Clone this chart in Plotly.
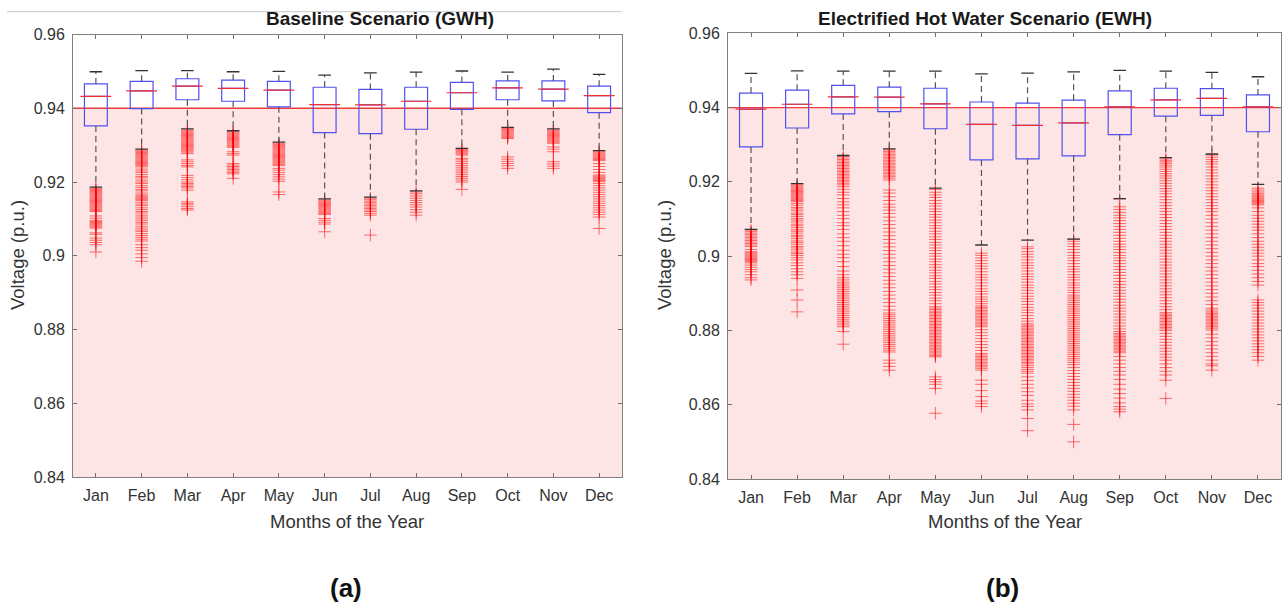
import plotly.graph_objects as go

months = ["Jan", "Feb", "Mar", "Apr", "May", "Jun", "Jul", "Aug", "Sep", "Oct", "Nov", "Dec"]
y_ticks = [0.84, 0.86, 0.88, 0.9, 0.92, 0.94, 0.96]
y_ticktext = ["0.84", "0.86", "0.88", "0.9", "0.92", "0.94", "0.96"]
threshold = 0.94

# ---- Baseline (GWH) box statistics ----
gwh_upper = [0.9499, 0.9502, 0.9502, 0.9499, 0.9500, 0.9490, 0.9496, 0.9498, 0.9501, 0.9498, 0.9506, 0.9492]
gwh_q3 = [0.9466, 0.9473, 0.9480, 0.9476, 0.9473, 0.9457, 0.9451, 0.9457, 0.9470, 0.9474, 0.9474, 0.9460]
gwh_median = [0.9432, 0.9447, 0.9460, 0.9454, 0.9449, 0.9410, 0.9409, 0.9419, 0.9442, 0.9455, 0.9452, 0.9434]
gwh_q1 = [0.9352, 0.9399, 0.9423, 0.9419, 0.9404, 0.9334, 0.9331, 0.9343, 0.9397, 0.9423, 0.9420, 0.9388]
gwh_lower = [0.9186, 0.9289, 0.9344, 0.9339, 0.9308, 0.9154, 0.9159, 0.9176, 0.9291, 0.9348, 0.9344, 0.9285]
gwh_outliers = [
    [0.9183, 0.918, 0.9177, 0.9174, 0.9171, 0.9168, 0.9165, 0.9162, 0.9159, 0.9156, 0.9153, 0.915, 0.9147, 0.9144,
     0.9141, 0.9138, 0.9135, 0.9132, 0.9129, 0.9126, 0.9123, 0.912, 0.9108, 0.9102, 0.9096, 0.9093, 0.909, 0.9087,
     0.9084, 0.9081, 0.9078, 0.9075, 0.9062, 0.9058, 0.9048, 0.9042, 0.9036, 0.903, 0.901],
    [0.9286, 0.9283, 0.928, 0.9277, 0.9274, 0.9271, 0.9268, 0.9265, 0.9262, 0.9259, 0.9256, 0.9253, 0.925, 0.9247,
     0.9244, 0.9241, 0.9235, 0.923, 0.9226, 0.922, 0.9215, 0.9211, 0.9205, 0.92, 0.9196, 0.919, 0.9185, 0.918,
     0.9176, 0.917, 0.9165, 0.9162, 0.9159, 0.9156, 0.9153, 0.915, 0.9145, 0.914, 0.9136, 0.913, 0.9125, 0.912,
     0.9116, 0.911, 0.9105, 0.91, 0.9095, 0.909, 0.9086, 0.908, 0.9075, 0.907, 0.9066, 0.906, 0.9055, 0.905,
     0.9045, 0.904, 0.903, 0.9022, 0.9015, 0.9005, 0.8995, 0.8985],
    [0.9341, 0.9338, 0.9335, 0.9332, 0.9329, 0.9326, 0.9323, 0.932, 0.9317, 0.9314, 0.9311, 0.9308, 0.9305, 0.9302,
     0.9299, 0.9296, 0.9293, 0.929, 0.9287, 0.9284, 0.9281, 0.9277, 0.926, 0.9255, 0.925, 0.9245, 0.9241, 0.9218,
     0.9212, 0.9206, 0.92, 0.9196, 0.9192, 0.9188, 0.9184, 0.9178, 0.9146, 0.9142, 0.9138, 0.9133, 0.9128, 0.9124],
    [0.9336, 0.9333, 0.933, 0.9327, 0.9324, 0.9321, 0.9318, 0.9315, 0.9312, 0.9309, 0.9306, 0.9303, 0.93, 0.9297,
     0.9294, 0.9282, 0.9277, 0.9273, 0.925, 0.9246, 0.9242, 0.9238, 0.9234, 0.923, 0.9226, 0.9222, 0.921],
    [0.9305, 0.9302, 0.9299, 0.9296, 0.9293, 0.929, 0.9287, 0.9284, 0.9281, 0.9278, 0.9275, 0.9272, 0.9269, 0.9266,
     0.9263, 0.926, 0.9257, 0.9254, 0.9251, 0.9248, 0.9245, 0.9237, 0.9232, 0.9226, 0.922, 0.9214, 0.9208, 0.9202,
     0.9173, 0.9166],
    [0.9151, 0.9148, 0.9145, 0.9142, 0.9139, 0.9136, 0.9133, 0.913, 0.9127, 0.9124, 0.9121, 0.9118, 0.9115, 0.9112,
     0.9101, 0.9096, 0.9091, 0.9086, 0.9065],
    [0.9156, 0.9152, 0.9148, 0.9144, 0.914, 0.9136, 0.9132, 0.9128, 0.9124, 0.912, 0.9115, 0.911, 0.9056],
    [0.9173, 0.9168, 0.9162, 0.9156, 0.915, 0.9144, 0.9138, 0.9132, 0.9125, 0.9118, 0.911],
    [0.9288, 0.9285, 0.9282, 0.9279, 0.9276, 0.9273, 0.9264, 0.926, 0.9255, 0.925, 0.9245, 0.924, 0.9235, 0.923,
     0.9225, 0.922, 0.9215, 0.921, 0.9205, 0.92, 0.918],
    [0.9345, 0.9342, 0.9339, 0.9336, 0.9333, 0.933, 0.9327, 0.9324, 0.9321, 0.9318, 0.9268, 0.9262, 0.9256, 0.925,
     0.9244, 0.9237],
    [0.9341, 0.9338, 0.9335, 0.9332, 0.9329, 0.9326, 0.9323, 0.932, 0.9317, 0.9314, 0.9311, 0.9308, 0.9305, 0.9295,
     0.9289, 0.9282, 0.9255, 0.9249, 0.9243, 0.9237],
    [0.9282, 0.9279, 0.9276, 0.9273, 0.927, 0.9267, 0.9264, 0.9261, 0.9258, 0.925, 0.9242, 0.9234, 0.9226, 0.9219,
     0.9216, 0.9213, 0.921, 0.9207, 0.9204, 0.9201, 0.9196, 0.919, 0.9184, 0.9178, 0.9172, 0.9166, 0.916, 0.9154,
     0.9148, 0.9142, 0.9136, 0.913, 0.9124, 0.9118, 0.9112, 0.9105, 0.9074],
]

# ---- Electrified hot water (EWH) box statistics ----
ewh_upper = [0.9492, 0.9499, 0.9498, 0.9498, 0.9498, 0.9491, 0.9493, 0.9496, 0.9500, 0.9498, 0.9495, 0.9483]
ewh_q3 = [0.9439, 0.9447, 0.9460, 0.9455, 0.9452, 0.9415, 0.9412, 0.9420, 0.9445, 0.9452, 0.9451, 0.9434]
ewh_median = [0.9396, 0.9409, 0.9429, 0.9428, 0.9410, 0.9355, 0.9352, 0.9359, 0.9402, 0.9421, 0.9425, 0.9402]
ewh_q1 = [0.9294, 0.9345, 0.9383, 0.9389, 0.9343, 0.9259, 0.9262, 0.9270, 0.9327, 0.9377, 0.9379, 0.9335]
ewh_lower = [0.9072, 0.9195, 0.9271, 0.9289, 0.9183, 0.9030, 0.9043, 0.9046, 0.9155, 0.9265, 0.9275, 0.9193]
ewh_outliers = [
    [0.907, 0.9066, 0.9062, 0.9058, 0.9054, 0.905, 0.9046, 0.9042, 0.9038, 0.9034, 0.903, 0.9026, 0.9018, 0.9012,
     0.9009, 0.9006, 0.9003, 0.9, 0.8997, 0.8994, 0.8991, 0.8988, 0.8985, 0.8982, 0.8976, 0.897, 0.8964, 0.8958,
     0.895, 0.8942, 0.8936],
    [0.9192, 0.9189, 0.9186, 0.9183, 0.918, 0.9177, 0.9174, 0.9171, 0.9168, 0.9165, 0.9162, 0.9159, 0.9156, 0.9153,
     0.915, 0.9147, 0.9142, 0.9137, 0.9131, 0.9127, 0.9122, 0.9116, 0.9112, 0.9107, 0.9101, 0.9097, 0.9092, 0.9086,
     0.9082, 0.9077, 0.9071, 0.9067, 0.9062, 0.9056, 0.9052, 0.9047, 0.9041, 0.9037, 0.9032, 0.9026, 0.9022, 0.9017,
     0.9011, 0.9007, 0.9002, 0.8996, 0.899, 0.8982, 0.8975, 0.8966, 0.8958, 0.895, 0.894, 0.8909, 0.8882, 0.885],
    [0.9268, 0.9264, 0.926, 0.9256, 0.9252, 0.9248, 0.9244, 0.924, 0.9236, 0.9232, 0.9228, 0.9224, 0.922, 0.9216,
     0.9212, 0.9208, 0.9204, 0.92, 0.9196, 0.9192, 0.9187, 0.918, 0.9172, 0.9165, 0.9155, 0.9146, 0.9138, 0.913,
     0.912, 0.911, 0.9101, 0.909, 0.9082, 0.9072, 0.906, 0.905, 0.904, 0.9028, 0.9016, 0.9005, 0.8996, 0.8985,
     0.8972, 0.896, 0.895, 0.8942, 0.8936, 0.893, 0.8925, 0.892, 0.8915, 0.891, 0.8905, 0.89, 0.8895, 0.889,
     0.8885, 0.888, 0.8875, 0.887, 0.8865, 0.886, 0.8855, 0.885, 0.8845, 0.884, 0.8835, 0.883, 0.8825, 0.882,
     0.8815, 0.881, 0.8797, 0.8763],
    [0.9286, 0.9282, 0.9278, 0.9274, 0.927, 0.9266, 0.9262, 0.9258, 0.9254, 0.925, 0.9246, 0.9242, 0.9238, 0.9234,
     0.923, 0.9226, 0.9222, 0.9218, 0.9214, 0.921, 0.9205, 0.9178, 0.917, 0.916, 0.915, 0.914, 0.9132, 0.9124,
     0.9115, 0.9105, 0.9095, 0.9085, 0.9075, 0.9065, 0.9055, 0.9045, 0.9035, 0.9025, 0.9015, 0.9005, 0.8995,
     0.8985, 0.8975, 0.8965, 0.8955, 0.8945, 0.8935, 0.8925, 0.8915, 0.8905, 0.8895, 0.8885, 0.8875, 0.8865,
     0.8855, 0.8847, 0.8842, 0.8837, 0.8832, 0.8827, 0.8822, 0.8817, 0.8812, 0.8807, 0.8802, 0.8797, 0.8792,
     0.8787, 0.8782, 0.8777, 0.8772, 0.8767, 0.8762, 0.8757, 0.8752, 0.8747, 0.8742, 0.872, 0.8712, 0.8703, 0.8693],
    [0.918, 0.9172, 0.9165, 0.9158, 0.915, 0.9142, 0.9135, 0.9127, 0.912, 0.9112, 0.9105, 0.9097, 0.909, 0.9082,
     0.9075, 0.9067, 0.906, 0.9052, 0.9045, 0.9037, 0.903, 0.9022, 0.9015, 0.9007, 0.9, 0.8992, 0.8985, 0.8977,
     0.897, 0.8962, 0.8955, 0.8947, 0.894, 0.8932, 0.8925, 0.8917, 0.891, 0.8902, 0.8895, 0.8887, 0.888, 0.8872,
     0.8864, 0.886, 0.8856, 0.8852, 0.8848, 0.8844, 0.884, 0.8836, 0.8832, 0.8828, 0.8824, 0.882, 0.8816, 0.8812,
     0.8808, 0.8804, 0.88, 0.8796, 0.8792, 0.8788, 0.8784, 0.878, 0.8776, 0.8772, 0.8768, 0.8764, 0.876, 0.8756,
     0.8752, 0.8748, 0.8744, 0.874, 0.8736, 0.8732, 0.8729, 0.8675, 0.8668, 0.8662, 0.8655, 0.8644, 0.8577],
    [0.9008, 0.9002, 0.8995, 0.8988, 0.898, 0.8973, 0.8966, 0.8958, 0.895, 0.8943, 0.8936, 0.8928, 0.892, 0.8912,
     0.8905, 0.8898, 0.889, 0.8884, 0.8878, 0.8872, 0.8866, 0.8862, 0.8858, 0.8854, 0.885, 0.8846, 0.8842, 0.8838,
     0.8834, 0.883, 0.8826, 0.8822, 0.8818, 0.8814, 0.881, 0.8802, 0.8794, 0.8786, 0.8778, 0.877, 0.8762, 0.8754,
     0.8746, 0.8738, 0.8734, 0.873, 0.8726, 0.8722, 0.8718, 0.8714, 0.871, 0.8706, 0.8702, 0.8698, 0.8693, 0.8666,
     0.8655, 0.8638, 0.8622, 0.861, 0.8603, 0.8595],
    [0.9025, 0.902, 0.9012, 0.9005, 0.8998, 0.899, 0.8982, 0.8975, 0.8968, 0.896, 0.8952, 0.8945, 0.8938, 0.893,
     0.8922, 0.8915, 0.8908, 0.89, 0.8892, 0.8885, 0.8878, 0.887, 0.8862, 0.8855, 0.8848, 0.884, 0.8832, 0.8825,
     0.8818, 0.8814, 0.881, 0.8806, 0.8802, 0.8798, 0.8794, 0.879, 0.8786, 0.8782, 0.8778, 0.8774, 0.877, 0.8766,
     0.8762, 0.8758, 0.8754, 0.875, 0.8746, 0.8742, 0.8738, 0.8734, 0.873, 0.8726, 0.8722, 0.8718, 0.8714, 0.871,
     0.8705, 0.87, 0.8695, 0.869, 0.8685, 0.8675, 0.8665, 0.8655, 0.8645, 0.8635, 0.8625, 0.8612, 0.8602, 0.8595,
     0.8586, 0.8563, 0.853],
    [0.9046, 0.904, 0.9033, 0.9026, 0.9018, 0.901, 0.9002, 0.8995, 0.8988, 0.898, 0.8972, 0.8965, 0.8958, 0.895,
     0.8943, 0.8936, 0.8928, 0.8922, 0.8915, 0.8908, 0.8902, 0.8895, 0.889, 0.8885, 0.888, 0.8875, 0.887, 0.8865,
     0.886, 0.8855, 0.885, 0.8845, 0.884, 0.8835, 0.883, 0.8825, 0.882, 0.8815, 0.881, 0.8805, 0.88, 0.8795,
     0.879, 0.8785, 0.878, 0.8775, 0.877, 0.8765, 0.876, 0.8755, 0.875, 0.8745, 0.874, 0.8735, 0.873, 0.8725,
     0.872, 0.8714, 0.8708, 0.87, 0.8692, 0.8684, 0.8676, 0.8668, 0.866, 0.8652, 0.8644, 0.8636, 0.8628, 0.862,
     0.8612, 0.8604, 0.8596, 0.8586, 0.8547, 0.85],
    [0.9154, 0.9133, 0.9126, 0.9118, 0.911, 0.9103, 0.9096, 0.9088, 0.908, 0.9072, 0.9064, 0.9056, 0.9048, 0.904,
     0.9032, 0.9025, 0.9018, 0.901, 0.9002, 0.8995, 0.8988, 0.898, 0.8972, 0.8964, 0.8956, 0.8948, 0.894, 0.8932,
     0.8924, 0.8916, 0.8908, 0.89, 0.8892, 0.8884, 0.8876, 0.8868, 0.886, 0.8852, 0.8844, 0.8836, 0.8828, 0.882,
     0.8812, 0.8804, 0.8797, 0.8792, 0.8788, 0.8784, 0.878, 0.8776, 0.8772, 0.8768, 0.8764, 0.876, 0.8756, 0.8752,
     0.8748, 0.8744, 0.874, 0.873, 0.872, 0.871, 0.87, 0.869, 0.868, 0.8668, 0.8655, 0.8642, 0.863, 0.8618, 0.8605,
     0.8595, 0.8588, 0.8581],
    [0.9262, 0.9258, 0.9254, 0.925, 0.9245, 0.924, 0.9234, 0.9228, 0.9222, 0.9216, 0.921, 0.9203, 0.9196, 0.9189,
     0.9182, 0.9175, 0.9168, 0.916, 0.9152, 0.9144, 0.9136, 0.9128, 0.912, 0.9112, 0.9104, 0.9096, 0.9088, 0.908,
     0.9072, 0.9064, 0.9056, 0.9048, 0.904, 0.9032, 0.9024, 0.9016, 0.9008, 0.9, 0.8992, 0.8984, 0.8976, 0.8968,
     0.896, 0.8952, 0.8944, 0.8936, 0.8928, 0.892, 0.8912, 0.8904, 0.8896, 0.8888, 0.888, 0.8872, 0.8864, 0.8856,
     0.8848, 0.8844, 0.884, 0.8836, 0.8832, 0.8828, 0.8824, 0.882, 0.8816, 0.8812, 0.8808, 0.8804, 0.88, 0.8792,
     0.8784, 0.8776, 0.8768, 0.876, 0.8752, 0.8744, 0.8736, 0.8728, 0.872, 0.871, 0.87, 0.869, 0.868, 0.8666, 0.8617],
    [0.9272, 0.9266, 0.926, 0.9254, 0.9248, 0.924, 0.9232, 0.9224, 0.9216, 0.9208, 0.92, 0.9192, 0.9184, 0.9176,
     0.9168, 0.916, 0.9152, 0.9144, 0.9136, 0.9128, 0.912, 0.911, 0.91, 0.909, 0.908, 0.907, 0.906, 0.905, 0.904,
     0.903, 0.902, 0.901, 0.9, 0.899, 0.898, 0.897, 0.896, 0.895, 0.894, 0.893, 0.892, 0.891, 0.89, 0.889, 0.888,
     0.887, 0.886, 0.8855, 0.885, 0.8846, 0.8842, 0.8838, 0.8834, 0.883, 0.8826, 0.8822, 0.8818, 0.8814, 0.881,
     0.8806, 0.8801, 0.879, 0.878, 0.877, 0.876, 0.875, 0.874, 0.873, 0.872, 0.871, 0.8705, 0.8693],
    [0.9183, 0.9178, 0.9173, 0.9169, 0.9165, 0.9162, 0.9159, 0.9156, 0.9153, 0.915, 0.9147, 0.9144, 0.9141, 0.9138,
     0.913, 0.912, 0.911, 0.9102, 0.9094, 0.9086, 0.9078, 0.907, 0.906, 0.905, 0.904, 0.9032, 0.9024, 0.9016,
     0.9008, 0.9, 0.899, 0.898, 0.8972, 0.8962, 0.8952, 0.8942, 0.8932, 0.8922, 0.8882, 0.8875, 0.8868, 0.886,
     0.8852, 0.8844, 0.8836, 0.8828, 0.882, 0.8812, 0.8804, 0.8796, 0.8788, 0.878, 0.8772, 0.8764, 0.8756, 0.8748,
     0.874, 0.873, 0.872],
]

FONT = "Liberation Sans, Arial, Helvetica, sans-serif"
PINK = "#FDE5E6"
RED_LINE = "#EF3A3A"
BOX_BLUE = "#5050F0"
OUT_RED = "rgba(255,0,0,0.55)"

fig = go.Figure()


def add_panel(xref, yref, upper, q3, med, q1, lower, outliers):
    ox, oy = [], []
    for m, vals in zip(months, outliers):
        for v in vals:
            ox.append(m)
            oy.append(v)
    fig.add_trace(go.Scatter(x=ox, y=oy, mode="markers", xaxis=xref, yaxis=yref,
                             marker=dict(symbol="cross-thin", size=9, color=OUT_RED,
                                         line=dict(color=OUT_RED, width=1)),
                             hoverinfo="skip", showlegend=False))
    wx, wy = [], []
    for m, u, a, b, lo in zip(months, upper, q3, q1, lower):
        wx += [m, m, None, m, m, None]
        wy += [a, u, None, b, lo, None]
    fig.add_trace(go.Scatter(x=wx, y=wy, mode="lines", xaxis=xref, yaxis=yref,
                             line=dict(color="#555555", width=1.2, dash="6px,4px"),
                             hoverinfo="skip", showlegend=False))
    fig.add_trace(go.Scatter(x=months + months, y=upper + lower, mode="markers", xaxis=xref, yaxis=yref,
                             marker=dict(symbol="line-ew", size=9, color="#333333",
                                         line=dict(color="#333333", width=1.3)),
                             hoverinfo="skip", showlegend=False))
    fig.add_trace(go.Box(x=months, q1=q1, median=med, q3=q3, lowerfence=q1, upperfence=q3,
                         xaxis=xref, yaxis=yref, width=0.5, boxpoints=False,
                         fillcolor="rgba(0,0,0,0)", line=dict(color=BOX_BLUE, width=1.2),
                         whiskerwidth=0, hoverinfo="skip", showlegend=False))
    fig.add_trace(go.Scatter(x=months, y=med, mode="markers", xaxis=xref, yaxis=yref,
                             marker=dict(symbol="line-ew", size=22, color=RED_LINE,
                                         line=dict(color="#F03030", width=1.2)),
                             hoverinfo="skip", showlegend=False))


add_panel("x", "y", gwh_upper, gwh_q3, gwh_median, gwh_q1, gwh_lower, gwh_outliers)
add_panel("x2", "y2", ewh_upper, ewh_q3, ewh_median, ewh_q1, ewh_lower, ewh_outliers)

W, H = 1282, 606
ax_common = dict(showline=True, linecolor="#808080", linewidth=1, mirror="ticks",
                 ticks="inside", ticklen=4, tickcolor="#707070", showgrid=False, zeroline=False,
                 automargin=False,
                 tickfont=dict(family=FONT, size=16, color="#333333"))

fig.update_layout(
    width=W, height=H, margin=dict(l=0, r=0, t=0, b=0, autoexpand=False),
    paper_bgcolor="white", plot_bgcolor="white",
    xaxis=dict(domain=[73 / W, 622 / W], anchor="y", type="category", ticklabelstandoff=4,
               categoryorder="array", categoryarray=months, range=[-0.5, 11.5], **ax_common),
    yaxis=dict(domain=[1 - 477 / H, 1 - 34.5 / H], anchor="x", range=[0.84, 0.96], ticklabelstandoff=4,
               tickvals=y_ticks, ticktext=y_ticktext, **ax_common),
    xaxis2=dict(domain=[728 / W, 1281 / W], anchor="y2", type="category", ticklabelstandoff=4,
                categoryorder="array", categoryarray=months, range=[-0.5, 11.5], **ax_common),
    yaxis2=dict(domain=[1 - 479 / H, 1 - 33.3 / H], anchor="x2", range=[0.84, 0.96], ticklabelstandoff=4,
                tickvals=y_ticks, ticktext=y_ticktext, **ax_common),
)

shapes = []
for xr, yr in (("x", "y"), ("x2", "y2")):
    shapes.append(dict(type="rect", xref=xr + " domain", yref=yr, x0=0, x1=1, y0=0.84, y1=threshold,
                       fillcolor=PINK, line=dict(width=0), layer="below"))
    shapes.append(dict(type="line", xref=xr + " domain", yref=yr, x0=0, x1=1, y0=threshold, y1=threshold,
                       line=dict(color=RED_LINE, width=1.3), layer="below"))
shapes.append(dict(type="line", xref="paper", yref="paper", x0=7 / W, x1=622 / W,
                   y0=1 - 11.7 / H, y1=1 - 11.7 / H, line=dict(color="#C8C8C8", width=1)))
fig.update_layout(shapes=shapes)

ann = [
    dict(text="<b>Baseline Scenario (GWH)</b>", x=380 / W, y=1 - 19 / H, size=19, color="#1a1a1a"),
    dict(text="<b>Electrified Hot Water Scenario (EWH)</b>", x=985 / W, y=1 - 19 / H, size=19, color="#1a1a1a"),
    dict(text="Months of the Year", x=347 / W, y=1 - 521 / H, size=18.5, color="#333333"),
    dict(text="Months of the Year", x=1004.5 / W, y=1 - 521 / H, size=18.5, color="#333333"),
    dict(text="<b>(a)</b>", x=345.5 / W, y=1 - 588 / H, size=26, color="#111111"),
    dict(text="<b>(b)</b>", x=1003 / W, y=1 - 588 / H, size=26, color="#111111"),
]
annotations = []
for a in ann:
    annotations.append(dict(text=a["text"], x=a["x"], y=a["y"], xref="paper", yref="paper",
                            showarrow=False, xanchor="center", yanchor="middle",
                            font=dict(family=FONT, size=a["size"], color=a["color"])))
for xv in (18, 665):
    annotations.append(dict(text="Voltage (p.u.)", x=xv / W, y=1 - 255 / H, xref="paper", yref="paper",
                            showarrow=False, textangle=-90, xanchor="center", yanchor="middle",
                            font=dict(family=FONT, size=18.5, color="#333333")))
fig.update_layout(annotations=annotations)

fig.write_html("out.html", config={"displayModeBar": False},
               post_script="document.body.style.margin='0';document.body.style.overflow='hidden';")
